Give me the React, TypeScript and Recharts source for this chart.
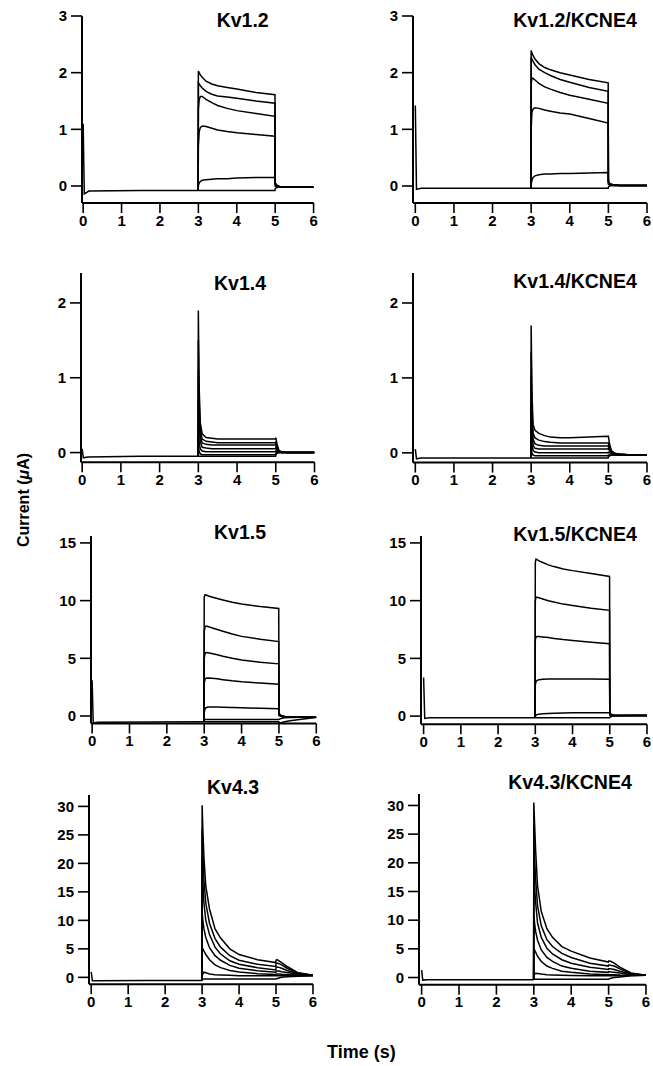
import React from 'react';
import { LineChart, Line, XAxis, YAxis } from 'recharts';

// sample times (s): holding segment and the step + tail segment
const HOLD_T = [0, 0.03, 0.15, 1.5, 2.995];
const STEP_T = [2.995, 3.0, 3.02, 3.05, 3.1, 3.2, 3.35, 3.5, 3.75, 4.0, 4.5, 4.995, 5.0, 5.03, 5.08, 5.15, 5.3, 5.6, 6.0];
const X_TICKS = [0, 1, 2, 3, 4, 5, 6];

// Kv1.2
const kv12Hold = [1.1, -0.14, -0.09, -0.08, -0.08];
const kv12Steps = [
  [-0.08, 2.03, 2.0, 1.96, 1.92, 1.85, 1.8, 1.77, 1.74, 1.71, 1.65, 1.61, 0.06, 0.02, 0.0, -0.02, -0.02, -0.02, -0.02],
  [-0.08, 1.82, 1.8, 1.77, 1.73, 1.67, 1.62, 1.59, 1.57, 1.55, 1.5, 1.46, 0.05, 0.02, 0.0, -0.02, -0.02, -0.02, -0.02],
  [-0.08, 1.35, 1.52, 1.58, 1.58, 1.53, 1.47, 1.42, 1.37, 1.33, 1.28, 1.23, 0.04, 0.01, -0.01, -0.02, -0.02, -0.02, -0.02],
  [-0.08, 0.7, 0.95, 1.03, 1.06, 1.05, 1.02, 0.99, 0.96, 0.94, 0.91, 0.88, 0.03, 0.0, -0.01, -0.02, -0.02, -0.02, -0.02],
  [-0.08, 0.0, 0.05, 0.08, 0.1, 0.11, 0.12, 0.13, 0.13, 0.14, 0.15, 0.15, 0.0, -0.01, -0.02, -0.02, -0.02, -0.02, -0.02],
  [-0.08, -0.08, -0.08, -0.08, -0.08, -0.08, -0.08, -0.08, -0.08, -0.08, -0.08, -0.08, -0.05, -0.03, -0.02, -0.02, -0.02, -0.02, -0.02],
];

// Kv1.2/KCNE4
const kv12eHold = [1.42, -0.06, -0.04, -0.04, -0.04];
const kv12eSteps = [
  [-0.04, 2.39, 2.35, 2.3, 2.24, 2.16, 2.09, 2.05, 2.0, 1.96, 1.88, 1.82, 0.1, 0.05, 0.03, 0.02, 0.01, 0.01, 0.01],
  [-0.04, 2.27, 2.24, 2.2, 2.14, 2.06, 2.0, 1.95, 1.88, 1.83, 1.74, 1.67, 0.08, 0.04, 0.03, 0.02, 0.01, 0.01, 0.01],
  [-0.04, 1.8, 1.9, 1.9, 1.87, 1.81, 1.75, 1.71, 1.65, 1.6, 1.53, 1.46, 0.07, 0.04, 0.02, 0.02, 0.01, 0.01, 0.01],
  [-0.04, 1.0, 1.3, 1.36, 1.38, 1.37, 1.34, 1.32, 1.29, 1.27, 1.19, 1.11, 0.05, 0.03, 0.02, 0.01, 0.01, 0.01, 0.01],
  [-0.04, 0.03, 0.1, 0.15, 0.18, 0.2, 0.21, 0.21, 0.22, 0.22, 0.23, 0.24, 0.03, 0.02, 0.01, 0.01, 0.01, 0.01, 0.01],
  [-0.04, -0.04, -0.04, -0.04, -0.04, -0.04, -0.04, -0.04, -0.04, -0.04, -0.04, -0.04, -0.02, 0.0, 0.01, 0.01, 0.01, 0.01, 0.01],
];

// Kv1.4
const kv14Hold = [0.05, -0.07, -0.06, -0.05, -0.05];
const kv14Steps = [
  [-0.05, 1.9, 0.9, 0.4, 0.25, 0.2, 0.19, 0.18, 0.18, 0.18, 0.18, 0.18, 0.2, 0.12, 0.03, 0.01, 0.0, 0.0, 0.0],
  [-0.05, 1.5, 0.7, 0.3, 0.18, 0.15, 0.14, 0.13, 0.13, 0.13, 0.13, 0.13, 0.15, 0.08, 0.02, 0.01, 0.0, 0.0, 0.0],
  [-0.05, 1.1, 0.5, 0.22, 0.13, 0.11, 0.1, 0.1, 0.1, 0.1, 0.1, 0.1, 0.11, 0.05, 0.01, 0.0, 0.0, 0.0, 0.0],
  [-0.05, 0.7, 0.35, 0.15, 0.07, 0.06, 0.05, 0.05, 0.05, 0.05, 0.05, 0.05, 0.06, 0.03, 0.01, 0.0, 0.0, 0.0, 0.0],
  [-0.05, 0.35, 0.15, 0.05, 0.02, 0.01, 0.01, 0.01, 0.01, 0.01, 0.01, 0.01, 0.02, 0.01, 0.0, 0.0, 0.0, 0.0, 0.0],
  [-0.05, 0.1, 0.02, -0.02, -0.03, -0.03, -0.03, -0.03, -0.03, -0.03, -0.03, -0.03, -0.01, 0.0, 0.0, 0.0, 0.0, 0.0, 0.0],
  [-0.05, -0.05, -0.05, -0.05, -0.05, -0.05, -0.05, -0.05, -0.05, -0.05, -0.05, -0.05, -0.03, -0.01, 0.0, 0.0, 0.0, 0.0, 0.0],
];

// Kv1.4/KCNE4
const kv14eHold = [0.05, -0.08, -0.07, -0.07, -0.07];
const kv14eSteps = [
  [-0.07, 1.7, 0.8, 0.38, 0.3, 0.26, 0.23, 0.21, 0.2, 0.2, 0.21, 0.22, 0.22, 0.12, 0.03, 0.0, -0.02, -0.03, -0.03],
  [-0.07, 1.35, 0.6, 0.26, 0.2, 0.17, 0.15, 0.14, 0.13, 0.13, 0.13, 0.13, 0.14, 0.07, 0.01, -0.01, -0.02, -0.03, -0.03],
  [-0.07, 1.0, 0.45, 0.18, 0.12, 0.1, 0.09, 0.09, 0.09, 0.09, 0.09, 0.09, 0.1, 0.05, 0.0, -0.01, -0.02, -0.03, -0.03],
  [-0.07, 0.65, 0.3, 0.1, 0.06, 0.05, 0.05, 0.05, 0.05, 0.05, 0.05, 0.05, 0.06, 0.03, 0.0, -0.02, -0.02, -0.03, -0.03],
  [-0.07, 0.3, 0.12, 0.03, 0.01, 0.0, 0.0, 0.0, 0.0, 0.0, 0.0, 0.0, 0.01, 0.0, -0.01, -0.02, -0.03, -0.03, -0.03],
  [-0.07, 0.08, 0.0, -0.03, -0.04, -0.04, -0.04, -0.04, -0.04, -0.04, -0.04, -0.04, -0.03, -0.03, -0.03, -0.03, -0.03, -0.03, -0.03],
  [-0.07, -0.07, -0.07, -0.07, -0.07, -0.07, -0.07, -0.07, -0.07, -0.07, -0.07, -0.07, -0.05, -0.04, -0.03, -0.03, -0.03, -0.03, -0.03],
];

// Kv1.5
const kv15Hold = [3.1, -0.6, -0.55, -0.52, -0.5];
const kv15Steps = [
  [-0.5, 10.3, 10.5, 10.48, 10.42, 10.32, 10.18, 10.05, 9.85, 9.7, 9.48, 9.32, 0.3, 0.1, 0.0, -0.05, -0.1, -0.1, -0.1],
  [-0.5, 7.3, 7.7, 7.8, 7.75, 7.65, 7.5, 7.35, 7.1, 6.9, 6.65, 6.45, 0.25, 0.08, 0.0, -0.05, -0.1, -0.1, -0.1],
  [-0.5, 5.0, 5.4, 5.5, 5.48, 5.42, 5.3, 5.18, 5.0, 4.85, 4.65, 4.52, 0.2, 0.05, 0.0, -0.05, -0.1, -0.1, -0.1],
  [-0.5, 2.8, 3.2, 3.28, 3.3, 3.28, 3.22, 3.15, 3.05, 2.97, 2.85, 2.75, 0.15, 0.03, -0.02, -0.05, -0.1, -0.1, -0.1],
  [-0.5, 0.3, 0.6, 0.72, 0.78, 0.79, 0.78, 0.76, 0.74, 0.72, 0.67, 0.63, 0.05, 0.0, -0.05, -0.08, -0.1, -0.1, -0.1],
  [-0.5, -0.35, -0.3, -0.3, -0.3, -0.3, -0.3, -0.3, -0.3, -0.3, -0.3, -0.3, -0.3, -0.25, -0.2, -0.15, -0.12, -0.1, -0.1],
  [-0.5, -0.5, -0.5, -0.5, -0.5, -0.5, -0.5, -0.5, -0.5, -0.5, -0.5, -0.5, -0.6, -0.6, -0.56, -0.5, -0.42, -0.28, -0.12],
];

// Kv1.5/KCNE4
const kv15eHold = [3.35, -0.2, -0.15, -0.15, -0.15];
const kv15eSteps = [
  [-0.15, 13.3, 13.6, 13.55, 13.45, 13.3, 13.1, 12.95, 12.75, 12.6, 12.35, 12.1, 0.35, 0.2, 0.1, 0.05, 0.05, 0.05, 0.05],
  [-0.15, 10.0, 10.3, 10.3, 10.25, 10.15, 10.0, 9.88, 9.7, 9.58, 9.35, 9.16, 0.3, 0.15, 0.08, 0.05, 0.05, 0.05, 0.05],
  [-0.15, 6.6, 6.85, 6.9, 6.9, 6.86, 6.8, 6.73, 6.63, 6.55, 6.4, 6.27, 0.25, 0.12, 0.06, 0.05, 0.05, 0.05, 0.05],
  [-0.15, 2.7, 3.0, 3.1, 3.15, 3.2, 3.22, 3.22, 3.22, 3.22, 3.21, 3.2, 0.2, 0.1, 0.05, 0.05, 0.05, 0.05, 0.05],
  [-0.15, 0.0, 0.08, 0.13, 0.17, 0.2, 0.23, 0.25, 0.27, 0.28, 0.29, 0.3, 0.08, 0.05, 0.05, 0.05, 0.05, 0.05, 0.05],
  [-0.15, -0.15, -0.15, -0.15, -0.15, -0.15, -0.15, -0.15, -0.15, -0.15, -0.15, -0.15, -0.1, -0.05, 0.0, 0.02, 0.03, 0.05, 0.05],
];

// Kv4.3
const kv43Hold = [0.95, -0.6, -0.58, -0.55, -0.55];
const kv43Steps = [
  [-0.55, 30.2, 26, 21, 16, 12, 8.5, 6.9, 5.0, 4.0, 3.1, 2.6, 3.0, 3.1, 2.9, 2.6, 1.9, 0.8, 0.35],
  [-0.55, 26, 22, 17, 13, 9.5, 6.8, 5.3, 3.8, 3.0, 2.3, 1.9, 2.4, 2.5, 2.4, 2.2, 1.6, 0.75, 0.35],
  [-0.55, 21, 17, 13, 10, 7.5, 5.3, 4.1, 2.9, 2.3, 1.7, 1.3, 1.7, 1.8, 1.75, 1.6, 1.2, 0.65, 0.35],
  [-0.55, 11.5, 10, 8.5, 7, 5.2, 3.8, 3.0, 2.1, 1.6, 1.15, 0.9, 1.05, 1.1, 1.1, 1.0, 0.85, 0.55, 0.35],
  [-0.55, 5.3, 5.0, 4.6, 4.0, 3.1, 2.2, 1.7, 1.2, 0.95, 0.65, 0.5, 0.55, 0.6, 0.6, 0.55, 0.5, 0.4, 0.35],
  [-0.55, 0.2, 0.6, 0.9, 0.8, 0.6, 0.45, 0.4, 0.35, 0.3, 0.3, 0.3, 0.3, 0.3, 0.3, 0.3, 0.3, 0.3, 0.3],
  [-0.55, -0.3, -0.3, -0.3, -0.3, -0.3, -0.3, -0.3, -0.3, -0.3, -0.3, -0.3, -0.3, -0.2, -0.1, 0.0, 0.1, 0.2, 0.3],
];

// Kv4.3/KCNE4
const kv43eHold = [1.3, -0.45, -0.4, -0.4, -0.4];
const kv43eSteps = [
  [-0.4, 30.5, 27, 22, 16, 11.5, 8.5, 7.0, 5.4, 4.6, 3.4, 2.7, 2.9, 2.9, 2.75, 2.5, 1.8, 0.8, 0.4],
  [-0.4, 24, 21, 17, 12.5, 9.0, 6.6, 5.4, 4.2, 3.5, 2.5, 2.0, 2.2, 2.2, 2.1, 2.0, 1.5, 0.7, 0.4],
  [-0.4, 19, 16, 13, 9.5, 7.0, 5.1, 4.1, 3.1, 2.5, 1.8, 1.4, 1.55, 1.55, 1.5, 1.4, 1.1, 0.6, 0.4],
  [-0.4, 11, 9.5, 8, 6.5, 4.8, 3.5, 2.8, 2.0, 1.6, 1.1, 0.9, 1.0, 1.0, 0.95, 0.9, 0.8, 0.5, 0.4],
  [-0.4, 5.0, 4.8, 4.4, 3.7, 2.8, 2.0, 1.6, 1.1, 0.9, 0.6, 0.5, 0.5, 0.5, 0.5, 0.5, 0.45, 0.4, 0.4],
  [-0.4, 0.2, 0.6, 0.75, 0.7, 0.6, 0.5, 0.45, 0.4, 0.35, 0.3, 0.3, 0.3, 0.3, 0.3, 0.3, 0.3, 0.35, 0.4],
  [-0.4, -0.3, -0.3, -0.3, -0.3, -0.3, -0.3, -0.3, -0.3, -0.3, -0.3, -0.3, -0.3, -0.2, -0.1, 0.0, 0.1, 0.3, 0.4],
];

const FONT = '"Liberation Sans", Arial, Helvetica, sans-serif';
const Y_W = 50;
const X_H = 32;
const M_TOP = 10;
const M_RIGHT = 12;

type Box = { left: number; top: number; right: number; bottom: number };
type PanelSpec = {
  title: string;
  hold: number[];
  steps: number[][];
  yTicks: number[];
  yDomain: [number, number];
  xMin: number;
  box: Box;
  titleAt: [number, number];
};

const panels: PanelSpec[] = [
  { title: 'Kv1.2', hold: kv12Hold, steps: kv12Steps, yTicks: [0, 1, 2, 3], yDomain: [-0.3, 3], xMin: -0.03,
    box: { left: 81.7, top: 16, right: 313.3, bottom: 203 }, titleAt: [242.7, 20.7] },
  { title: 'Kv1.2/KCNE4', hold: kv12eHold, steps: kv12eSteps, yTicks: [0, 1, 2, 3], yDomain: [-0.3, 3], xMin: -0.06,
    box: { left: 412.7, top: 16, right: 646.7, bottom: 203 }, titleAt: [575, 20.7] },
  { title: 'Kv1.4', hold: kv14Hold, steps: kv14Steps, yTicks: [0, 1, 2], yDomain: [-0.13, 2.4], xMin: -0.03,
    box: { left: 81, top: 273.4, right: 314.5, bottom: 462.7 }, titleAt: [240, 284.3] },
  { title: 'Kv1.4/KCNE4', hold: kv14eHold, steps: kv14eSteps, yTicks: [0, 1, 2], yDomain: [-0.13, 2.4], xMin: -0.06,
    box: { left: 412.7, top: 273.4, right: 646.7, bottom: 463 }, titleAt: [575, 281.7] },
  { title: 'Kv1.5', hold: kv15Hold, steps: kv15Steps, yTicks: [0, 5, 10, 15], yDomain: [-0.65, 15.6], xMin: -0.03,
    box: { left: 90.7, top: 535.8, right: 316, bottom: 723.3 }, titleAt: [240, 533] },
  { title: 'Kv1.5/KCNE4', hold: kv15eHold, steps: kv15eSteps, yTicks: [0, 5, 10, 15], yDomain: [-0.7, 15.6], xMin: -0.07,
    box: { left: 420.7, top: 535.8, right: 646.7, bottom: 724 }, titleAt: [575, 535] },
  { title: 'Kv4.3', hold: kv43Hold, steps: kv43Steps, yTicks: [0, 5, 10, 15, 20, 25, 30], yDomain: [-1.2, 32], xMin: -0.06,
    box: { left: 89.3, top: 795.3, right: 313.3, bottom: 984.5 }, titleAt: [233, 787.7] },
  { title: 'Kv4.3/KCNE4', hold: kv43eHold, steps: kv43eSteps, yTicks: [0, 5, 10, 15, 20, 25, 30], yDomain: [-1.25, 32], xMin: -0.07,
    box: { left: 419, top: 794.3, right: 646, bottom: 985 }, titleAt: [570, 783] },
];

function buildRows(hold: number[], steps: number[][]) {
  const rows: Record<string, number>[] = HOLD_T.map((t, i) => ({ t, h: hold[i] }));
  STEP_T.forEach((t, i) => {
    const r: Record<string, number> = { t };
    steps.forEach((s, k) => {
      r[`s${k}`] = s[i];
    });
    rows.push(r);
  });
  return rows;
}

const tickStyle = { fill: '#000', fontSize: 15, fontWeight: 'bold', fontFamily: FONT };
const axisStyle = { stroke: '#000', strokeWidth: 2 };
const tickLineStyle = { stroke: '#000', strokeWidth: 1.6 };

function Panel({ p }: { p: PanelSpec }) {
  const { left, top, right, bottom } = p.box;
  const width = Y_W + (right - left) + M_RIGHT;
  const height = M_TOP + (bottom - top) + X_H;
  const rows = buildRows(p.hold, p.steps);
  return (
    <>
      <div style={{ position: 'absolute', left: left - Y_W, top: top - M_TOP }}>
        <LineChart width={width} height={height} data={rows} margin={{ top: M_TOP, right: M_RIGHT, left: 0, bottom: 0 }}>
          <XAxis
            dataKey="t"
            type="number"
            domain={[p.xMin, 6]}
            ticks={X_TICKS}
            interval={0}
            allowDataOverflow
            height={X_H}
            tickSize={10}
            tickMargin={2}
            axisLine={axisStyle}
            tickLine={tickLineStyle}
            tick={tickStyle}
          />
          <YAxis
            type="number"
            domain={p.yDomain}
            ticks={p.yTicks}
            interval={0}
            allowDataOverflow
            width={Y_W}
            tickSize={11}
            tickMargin={4}
            axisLine={axisStyle}
            tickLine={tickLineStyle}
            tick={tickStyle}
          />
          <Line dataKey="h" type="linear" stroke="#000" strokeWidth={1.5} dot={false} isAnimationActive={false} />
          {p.steps.map((_, k) => (
            <Line
              key={k}
              dataKey={`s${k}`}
              type="linear"
              stroke="#000"
              strokeWidth={1.5}
              dot={false}
              isAnimationActive={false}
            />
          ))}
        </LineChart>
      </div>
      <div
        style={{
          position: 'absolute',
          left: p.titleAt[0],
          top: p.titleAt[1],
          transform: 'translate(-50%, -50%)',
          fontSize: 19.5,
          fontWeight: 'bold',
          lineHeight: 1,
          whiteSpace: 'nowrap',
        }}
      >
        {p.title}
      </div>
    </>
  );
}

export default function App() {
  return (
    <div
      style={{
        position: 'absolute',
        left: 0,
        top: 0,
        width: 653,
        height: 1066,
        background: '#fff',
        fontFamily: FONT,
        color: '#000',
      }}
    >
      {panels.map((p) => (
        <Panel key={p.title} p={p} />
      ))}
      <div
        style={{
          position: 'absolute',
          left: 24,
          top: 500,
          transform: 'translate(-50%, -50%) rotate(-90deg)',
          fontSize: 16,
          fontWeight: 'bold',
          whiteSpace: 'nowrap',
          lineHeight: 1,
        }}
      >
        Current (<i>μ</i>A)
      </div>
      <div
        style={{
          position: 'absolute',
          left: 327,
          top: 1052,
          transform: 'translateY(-50%)',
          fontSize: 18,
          fontWeight: 'bold',
          whiteSpace: 'nowrap',
          lineHeight: 1,
        }}
      >
        Time (s)
      </div>
    </div>
  );
}
